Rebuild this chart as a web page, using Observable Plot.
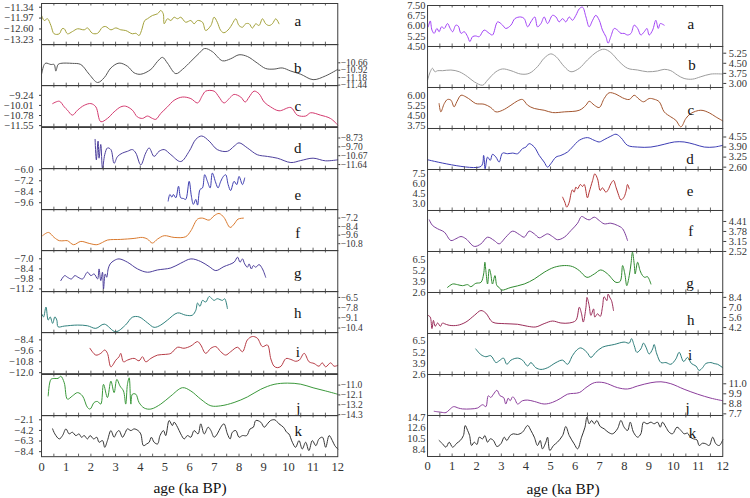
<!DOCTYPE html>
<html><head><meta charset="utf-8">
<script src="https://cdn.jsdelivr.net/npm/d3@7"></script>
<script src="https://cdn.jsdelivr.net/npm/@observablehq/plot@0.6"></script>
<style>
body{margin:0;background:#fff;}
#wrap{position:relative;width:750px;height:498px;background:#fff;font-family:"Liberation Serif","Times New Roman","DejaVu Serif",serif;overflow:hidden;}
.xl{position:absolute;font-size:15.5px;color:#111;transform:translate(-50%,-50%);white-space:nowrap;font-family:"Liberation Serif","Times New Roman","DejaVu Serif",serif;}
svg text{font-family:"Liberation Serif","Times New Roman","DejaVu Serif",serif;}
</style></head><body><div id="wrap"></div>
<script>
// ---------- data: [age (ka BP), value] ----------
const leftA=[[0,-11.82],[0.11,-12.11],[0.24,-12.01],[0.38,-12.40],[0.51,-12.88],[0.72,-12.88],[0.83,-12.59],[0.92,-12.59],[1.05,-12.88],[1.25,-12.75],[1.46,-12.59],[1.73,-12.65],[1.86,-12.54],[2.06,-12.85],[2.27,-12.85],[2.47,-12.50],[2.6,-12.46],[2.81,-12.65],[3.01,-12.54],[3.21,-12.65],[3.41,-12.69],[3.68,-12.88],[3.82,-12.85],[3.95,-12.98],[4.05,-12.69],[4.18,-12.11],[4.29,-12.01],[4.49,-11.82],[4.70,-11.72],[4.83,-11.53],[4.93,-11.72],[4.97,-12.30],[5.10,-12.01],[5.24,-12.11],[5.37,-11.92],[5.51,-12.01],[5.64,-11.92],[5.84,-12.21],[6.05,-12.11],[6.18,-12.30],[6.32,-12.11],[6.52,-12.21],[6.65,-12.69],[6.86,-12.40],[6.99,-11.92],[7.12,-12.21],[7.26,-12.69],[7.39,-12.82],[7.60,-12.59],[7.73,-12.30],[7.87,-12.01],[8.00,-12.40],[8.14,-12.50],[8.27,-12.30],[8.41,-12.30],[8.54,-12.55],[8.68,-12.30],[8.81,-12.40],[8.95,-12.01],[9.08,-12.30],[9.22,-12.40],[9.35,-12.30],[9.49,-12.01],[9.62,-12.30]];
const leftB=[[0,-11.06],[0.11,-10.72],[0.18,-10.67],[0.38,-10.72],[0.51,-10.72],[0.58,-10.95],[0.67,-10.72],[0.78,-10.68],[1.25,-10.68],[1.59,-10.72],[1.93,-11.06],[2.27,-11.35],[2.54,-11.18],[2.81,-10.84],[3.14,-10.67],[3.48,-10.78],[3.75,-11.01],[4.02,-11.06],[4.43,-10.89],[4.70,-10.61],[4.90,-10.47],[5.10,-10.67],[5.44,-11.04],[5.71,-10.89],[6.05,-10.61],[6.38,-10.33],[6.61,-10.16],[6.92,-10.27],[7.33,-10.59],[7.66,-10.52],[8.0,-10.38],[8.34,-10.44],[8.74,-10.67],[9.08,-10.86],[9.42,-10.88],[9.75,-10.84],[10.1,-10.95],[10.5,-11.06],[11.0,-11.25],[11.5,-11.12],[12.0,-10.89]];
const leftC=[[0.45,-9.87],[0.72,-9.69],[0.92,-10.12],[1.05,-10.37],[1.25,-10.75],[1.46,-10.37],[1.73,-10.0],[2.0,-9.87],[2.2,-10.12],[2.4,-11.25],[2.67,-11.0],[2.94,-10.50],[3.21,-10.12],[3.41,-10.07],[3.68,-10.37],[3.88,-10.88],[4.09,-11.0],[4.29,-10.82],[4.49,-11.0],[4.63,-11.07],[4.83,-10.62],[5.10,-10.12],[5.37,-9.62],[5.71,-9.37],[6.05,-9.49],[6.32,-9.82],[6.52,-9.24],[6.65,-8.92],[6.99,-8.92],[7.19,-9.37],[7.39,-9.82],[7.66,-9.37],[7.80,-9.17],[8.07,-9.37],[8.25,-9.75],[8.41,-9.37],[8.61,-8.92],[8.81,-9.12],[9.02,-9.75],[9.28,-10.12],[9.62,-10.42],[10.1,-10.17],[10.36,-10.75],[10.7,-10.82],[10.9,-10.57],[11.3,-10.75],[11.7,-11.0],[12.0,-11.50]];
const leftD=[[2.17,-8.88],[2.22,-11.12],[2.29,-9.07],[2.33,-10.94],[2.40,-9.44],[2.47,-12.06],[2.56,-10.56],[2.67,-9.82],[2.81,-10.0],[2.94,-11.50],[3.08,-10.75],[3.28,-10.38],[3.48,-10.19],[3.68,-10.0],[3.82,-10.38],[4.02,-11.68],[4.22,-10.38],[4.36,-9.82],[4.56,-10.75],[4.76,-10.19],[4.97,-10.0],[5.24,-10.56],[5.64,-11.31],[5.98,-10.19],[6.25,-8.88],[6.49,-8.51],[6.79,-9.07],[7.12,-10.0],[7.53,-10.19],[7.80,-9.63],[8.0,-9.26],[8.34,-9.82],[8.74,-10.56],[9.15,-10.75],[9.55,-10.94],[10.1,-11.42],[10.5,-11.2],[11.0,-10.94],[11.5,-11.23],[12.0,-11.12]];
const leftE=[[5.13,-9.42],[5.20,-8.70],[5.28,-8.99],[5.34,-8.70],[5.44,-9.06],[5.55,-7.80],[5.64,-9.06],[5.75,-9.14],[5.84,-9.24],[5.98,-7.26],[6.07,-8.88],[6.15,-9.78],[6.25,-9.24],[6.32,-9.86],[6.42,-8.16],[6.52,-7.98],[6.61,-6.54],[6.72,-7.26],[6.83,-7.98],[6.92,-6.36],[7.06,-7.44],[7.15,-7.98],[7.26,-7.26],[7.37,-6.72],[7.46,-6.54],[7.56,-7.62],[7.66,-8.27],[7.80,-7.26],[7.91,-7.62],[8.0,-6.72],[8.14,-7.62],[8.23,-6.90]];
const leftF=[[0.04,-9.68],[0.28,-9.22],[0.51,-9.92],[0.72,-10.38],[0.92,-10.38],[1.05,-10.38],[1.30,-10.94],[1.59,-10.48],[1.93,-10.76],[2.24,-10.94],[2.47,-10.62],[2.67,-10.29],[3.21,-10.20],[3.75,-10.06],[4.09,-9.92],[4.29,-10.15],[4.49,-10.71],[4.70,-10.15],[4.97,-9.68],[5.37,-9.92],[5.84,-9.82],[6.05,-8.98],[6.32,-7.35],[6.52,-7.21],[6.79,-7.49],[6.99,-6.88],[7.19,-6.56],[7.39,-7.12],[7.64,-8.52],[7.80,-8.05],[7.96,-7.35],[8.18,-7.21]];
const leftG=[[0.78,-10.04],[0.94,-9.34],[1.05,-9.57],[1.21,-9.81],[1.35,-9.34],[1.48,-9.57],[1.66,-9.81],[1.86,-8.87],[2.0,-9.34],[2.13,-9.11],[2.27,-9.81],[2.33,-8.41],[2.40,-10.04],[2.47,-8.87],[2.51,-11.21],[2.58,-9.11],[2.64,-9.57],[2.70,-8.41],[2.78,-7.71],[2.94,-7.24],[3.14,-7.01],[3.48,-7.47],[3.89,-8.41],[4.29,-8.87],[4.70,-8.55],[5.24,-8.27],[5.64,-7.61],[6.05,-7.01],[6.45,-7.38],[6.79,-8.08],[7.06,-8.64],[7.39,-8.08],[7.80,-7.47],[7.94,-6.77],[8.04,-7.47],[8.14,-7.01],[8.23,-7.71],[8.34,-8.17],[8.41,-7.71],[8.50,-8.41],[8.58,-7.94],[8.68,-8.17],[8.81,-7.80],[8.95,-8.41],[9.08,-9.57]];
const leftH=[[0,-8.55],[0.08,-8.98],[0.18,-7.72],[0.27,-9.39],[0.35,-8.98],[0.45,-9.81],[0.54,-8.98],[0.62,-9.39],[0.67,-10.24],[0.92,-10.15],[1.46,-10.02],[1.86,-10.11],[2.2,-10.44],[2.54,-9.90],[3.0,-10.87],[3.4,-10.02],[3.68,-9.02],[3.95,-8.98],[4.29,-9.73],[4.56,-10.31],[4.83,-10.02],[5.10,-9.39],[5.51,-8.47],[5.84,-8.76],[6.11,-8.76],[6.25,-8.13],[6.32,-7.21],[6.42,-7.63],[6.52,-6.87],[6.65,-7.09],[6.79,-6.37],[6.86,-6.53],[6.99,-6.87],[7.12,-6.66],[7.33,-6.87],[7.42,-6.66],[7.53,-7.92]];
const leftI=[[1.96,-9.32],[2.2,-10.07],[2.4,-9.88],[2.56,-9.51],[2.67,-9.88],[2.81,-11.36],[3.01,-10.62],[3.14,-10.25],[3.21,-9.88],[3.32,-10.81],[3.48,-10.62],[3.75,-10.43],[3.95,-10.70],[4.09,-10.25],[4.22,-10.81],[4.43,-10.43],[4.70,-10.07],[5.03,-9.99],[5.24,-9.88],[5.51,-9.21],[5.77,-9.32],[6.05,-9.07],[6.32,-8.59],[6.45,-8.96],[6.65,-9.88],[6.86,-9.32],[7.06,-9.14],[7.26,-9.70],[7.46,-10.07],[7.66,-9.70],[7.94,-9.21],[8.14,-9.70],[8.34,-8.40],[8.54,-8.03],[8.74,-8.21],[8.95,-9.14],[9.15,-8.96],[9.29,-10.5],[9.42,-11.29],[9.55,-11.45],[9.70,-11.3],[9.9,-10.45],[10.1,-10.55],[10.3,-10.75],[10.45,-10.6],[10.64,-9.88],[10.84,-10.81],[11.04,-10.99],[11.24,-11.29],[11.37,-10.92],[11.51,-11.36],[11.71,-10.92],[11.85,-11.29],[12.0,-11.2]];
const leftJ=[[0.27,-12.21],[0.38,-10.37],[0.51,-10.26],[0.67,-10.26],[0.78,-10.01],[0.92,-10.74],[1.05,-12.57],[1.25,-12.21],[1.46,-11.84],[1.66,-12.21],[1.86,-13.49],[1.97,-13.67],[2.13,-12.94],[2.27,-12.83],[2.40,-13.12],[2.51,-10.92],[2.67,-12.39],[2.81,-10.56],[2.94,-11.84],[3.05,-10.37],[3.18,-11.11],[3.32,-11.66],[3.41,-13.12],[3.48,-10.92],[3.55,-10.19],[3.62,-13.12],[3.68,-12.02],[3.82,-12.02],[3.95,-12.94],[4.16,-13.56],[4.43,-13.67],[4.83,-13.12],[5.24,-12.21],[5.71,-11.29],[6.05,-11.66],[6.45,-12.57],[6.86,-13.31],[7.26,-13.31],[7.80,-12.94],[8.34,-12.32],[8.88,-11.47],[9.42,-10.92],[9.96,-10.78],[10.5,-10.9],[11.0,-11.3],[11.5,-11.65],[12.0,-12.02]];
const leftK=[[0.45,-3.90],[0.54,-4.89],[0.72,-5.88],[0.85,-5.22],[0.99,-3.90],[1.12,-4.89],[1.25,-4.56],[1.39,-5.22],[1.52,-4.89],[1.62,-5.55],[1.73,-5.22],[1.86,-5.88],[1.97,-5.22],[2.11,-5.88],[2.24,-5.55],[2.33,-6.54],[2.47,-6.21],[2.56,-7.54],[2.67,-6.21],[2.81,-4.23],[2.94,-5.55],[3.05,-4.56],[3.14,-4.23],[3.28,-5.55],[3.37,-4.89],[3.48,-3.90],[3.62,-4.23],[3.75,-3.90],[3.91,-4.23],[4.02,-4.89],[4.13,-7.21],[4.26,-6.87],[4.36,-6.54],[4.45,-5.55],[4.56,-6.54],[4.70,-6.87],[4.80,-5.22],[4.94,-4.23],[5.03,-5.22],[5.17,-2.24],[5.30,-3.24],[5.37,-2.57],[5.51,-3.57],[5.64,-4.89],[5.78,-5.88],[5.91,-5.22],[6.05,-5.55],[6.18,-4.23],[6.34,-4.89],[6.45,-2.90],[6.59,-4.89],[6.75,-3.57],[6.86,-4.23],[6.99,-5.55],[7.12,-4.89],[7.26,-3.57],[7.39,-2.90],[7.53,-4.89],[7.64,-5.88],[7.73,-4.56],[7.87,-4.23],[8.0,-5.55],[8.14,-5.22],[8.31,-5.22],[8.45,-3.90],[8.58,-3.57],[8.68,-2.24],[8.88,-2.57],[9.02,-3.57],[9.15,-2.90],[9.28,-2.24],[9.45,-2.11],[9.62,-2.90],[9.80,-3.57],[9.93,-4.56],[10.02,-4.89],[10.16,-6.54],[10.29,-7.54],[10.43,-6.21],[10.56,-7.87],[10.70,-6.54],[10.83,-8.20],[10.97,-6.21],[11.11,-7.21],[11.24,-5.88],[11.38,-5.55],[11.51,-7.54],[11.65,-5.22],[11.78,-6.21],[11.88,-7.21],[12.0,-7.87]];

const rightA=[[0.03,5.94],[0.11,6.37],[0.18,5.70],[0.27,5.46],[0.38,5.82],[0.47,5.58],[0.57,5.94],[0.68,5.82],[0.81,6.18],[0.92,5.82],[1.02,5.58],[1.15,6.06],[1.25,5.99],[1.36,5.46],[1.49,5.58],[1.63,5.22],[1.72,4.86],[1.83,5.22],[1.96,5.27],[2.10,5.22],[2.30,5.70],[2.51,5.46],[2.64,5.34],[2.85,6.30],[3.05,6.06],[3.18,5.82],[3.39,6.06],[3.55,6.54],[3.79,6.66],[3.93,6.54],[4.07,5.94],[4.20,6.30],[4.36,6.66],[4.47,5.94],[4.61,6.18],[4.74,6.66],[4.88,6.18],[5.08,6.78],[5.22,6.66],[5.35,6.30],[5.49,6.54],[5.62,6.30],[5.76,6.66],[5.89,6.42],[6.03,6.78],[6.17,7.26],[6.30,7.38],[6.44,6.66],[6.57,5.94],[6.71,6.42],[6.84,6.78],[6.98,6.42],[7.11,5.70],[7.25,5.22],[7.34,4.74],[7.45,5.22],[7.59,5.82],[7.72,5.70],[7.86,5.46],[7.99,5.46],[8.13,5.34],[8.27,5.46],[8.40,6.06],[8.54,5.82],[8.67,5.34],[8.81,5.58],[8.92,5.82],[9.01,5.34],[9.15,5.70],[9.28,6.42],[9.38,5.82],[9.46,6.18],[9.55,6.13],[9.62,6.06]];
const rightB=[[0,3.25],[0.11,3.87],[0.20,4.13],[0.30,3.87],[0.41,3.95],[0.61,3.95],[0.95,4.0],[1.29,3.87],[1.63,3.50],[1.90,3.12],[2.24,2.87],[2.44,3.25],[2.78,3.87],[3.05,4.08],[3.39,3.95],[3.79,3.70],[4.13,3.75],[4.47,4.25],[4.74,4.88],[5.01,5.20],[5.22,5.0],[5.56,4.25],[5.83,3.87],[6.17,4.13],[6.50,4.75],[6.91,5.38],[7.18,5.55],[7.45,5.30],[7.79,4.63],[8.13,4.13],[8.54,4.0],[8.94,3.87],[9.35,3.93],[9.62,4.05],[9.89,3.95],[10.16,3.62],[10.43,3.37],[10.77,3.32],[11.11,3.50],[11.52,3.70],[12.0,3.70]];
const rightC=[[0.47,5.39],[0.54,4.78],[0.68,5.39],[0.81,5.69],[0.95,5.64],[1.08,5.15],[1.19,5.52],[1.36,6.0],[1.56,5.88],[1.76,5.64],[1.96,5.39],[2.30,5.34],[2.57,5.10],[2.78,4.78],[3.05,4.90],[3.39,5.27],[3.66,5.59],[3.86,5.69],[4.07,5.27],[4.34,5.03],[4.74,4.90],[5.08,4.73],[5.56,4.78],[6.17,4.90],[6.44,5.27],[6.57,5.56],[6.78,5.27],[6.98,5.10],[7.18,5.76],[7.38,6.18],[7.66,6.08],[7.93,5.81],[8.20,5.69],[8.40,6.0],[8.60,5.71],[8.78,5.52],[9.01,5.76],[9.21,5.71],[9.42,5.52],[9.62,4.78],[9.89,4.41],[10.09,4.17],[10.30,3.68],[10.50,4.29],[10.70,4.66],[11.11,4.90],[11.45,4.71],[11.72,4.41],[12.0,4.12]];
const rightD=[[0,3.08],[2.17,2.65],[2.28,3.36],[2.34,2.49],[2.44,3.25],[2.55,3.04],[2.64,3.43],[2.78,3.25],[2.91,2.93],[3.05,3.51],[3.25,3.47],[3.46,3.51],[3.66,3.47],[3.86,3.80],[4.0,3.90],[4.13,4.12],[4.34,3.90],[4.54,3.36],[4.74,2.93],[4.88,2.60],[5.01,2.82],[5.22,3.25],[5.42,3.36],[5.69,3.58],[5.89,3.90],[6.17,4.34],[6.50,4.51],[6.77,4.34],[6.98,4.23],[7.18,4.38],[7.45,4.60],[7.66,4.73],[7.86,4.51],[8.13,4.01],[8.54,3.90],[9.08,3.90],[9.62,4.08],[10.03,4.23],[10.43,4.23],[10.84,4.08],[11.25,3.90],[11.65,3.90],[12.0,4.01]];
const rightE=[[5.49,4.0],[5.58,3.25],[5.66,2.50],[5.76,3.25],[5.83,4.50],[5.89,5.10],[5.96,4.75],[6.03,5.50],[6.10,5.25],[6.21,5.90],[6.30,5.60],[6.37,5.90],[6.50,3.90],[6.57,4.75],[6.71,6.50],[6.80,7.50],[6.91,6.75],[7.02,5.0],[7.11,5.40],[7.25,4.75],[7.34,5.10],[7.45,6.0],[7.56,6.50],[7.66,5.50],[7.75,4.50],[7.86,3.60],[7.97,3.90],[8.06,4.75],[8.13,5.90],[8.20,5.25]];
const rightF=[[0.07,4.51],[0.20,4.16],[0.41,3.95],[0.68,3.74],[0.95,3.21],[1.15,3.32],[1.36,3.46],[1.56,3.32],[1.90,2.84],[2.17,3.0],[2.44,3.42],[2.71,3.21],[2.91,3.0],[3.18,3.42],[3.46,3.80],[3.73,3.59],[3.93,3.42],[4.13,3.80],[4.34,3.63],[4.54,3.38],[4.74,3.53],[4.88,3.63],[5.08,3.46],[5.28,3.26],[5.56,3.42],[5.83,3.84],[6.10,4.30],[6.26,4.72],[6.44,4.58],[6.57,4.51],[6.78,4.68],[6.98,4.47],[7.18,4.26],[7.45,4.30],[7.72,4.16],[7.93,3.95],[8.13,3.21]];
const rightG=[[0.81,3.21],[1.02,3.62],[1.22,3.54],[1.42,3.42],[1.63,3.54],[1.76,3.30],[1.96,3.70],[2.17,3.82],[2.28,4.83],[2.33,6.24],[2.37,5.23],[2.44,3.62],[2.51,5.43],[2.57,4.83],[2.64,3.62],[2.74,4.63],[2.82,3.42],[2.91,3.21],[3.01,2.89],[3.39,3.21],[3.93,3.62],[4.34,4.22],[4.74,5.03],[5.15,5.63],[5.56,5.84],[5.89,5.72],[6.17,5.23],[6.48,4.42],[6.78,4.83],[7.04,5.31],[7.32,4.83],[7.66,3.82],[7.83,3.94],[7.93,5.84],[8.02,4.83],[8.10,3.42],[8.20,4.63],[8.27,6.04],[8.33,7.45],[8.40,6.04],[8.44,4.83],[8.54,6.24],[8.64,5.23],[8.74,4.63],[8.83,4.42],[8.94,4.50],[9.08,3.62]];
const rightH=[[0.03,5.89],[0.11,5.66],[0.18,4.06],[0.24,5.20],[0.31,4.38],[0.41,4.84],[0.52,4.38],[0.61,4.84],[0.68,4.75],[0.88,4.52],[1.22,4.52],[1.56,4.97],[1.90,5.89],[2.17,6.57],[2.37,6.21],[2.64,4.97],[3.12,4.75],[3.66,4.66],[4.07,4.38],[4.40,4.29],[4.74,4.75],[5.08,5.11],[5.42,4.84],[5.76,4.84],[6.03,5.20],[6.17,7.03],[6.26,6.12],[6.33,4.97],[6.44,7.03],[6.48,8.40],[6.57,7.26],[6.64,5.89],[6.75,6.80],[6.80,5.66],[6.91,6.12],[7.02,5.75],[7.11,7.03],[7.18,8.49],[7.29,7.94],[7.34,8.86],[7.42,8.31],[7.48,7.94],[7.56,6.57]];
const rightI=[[1.96,5.58],[2.17,4.91],[2.37,4.67],[2.57,4.79],[2.78,3.99],[2.91,4.19],[3.09,4.51],[3.22,3.79],[3.39,4.27],[3.66,4.51],[3.86,4.27],[4.07,3.59],[4.20,3.99],[4.40,3.39],[4.61,3.19],[4.88,3.39],[5.22,3.99],[5.49,4.27],[5.69,3.79],[5.89,4.79],[6.07,5.46],[6.23,5.70],[6.48,5.18],[6.64,4.59],[6.84,5.18],[7.11,5.78],[7.59,6.10],[7.99,6.38],[8.20,6.26],[8.29,6.78],[8.40,5.98],[8.51,5.18],[8.67,5.58],[8.78,6.26],[8.88,5.78],[9.01,4.99],[9.15,5.58],[9.21,6.10],[9.32,4.99],[9.49,3.99],[9.69,3.99],[9.89,3.79],[10.09,4.39],[10.23,5.18],[10.41,4.11],[10.57,4.59],[10.73,3.87],[10.91,3.59],[11.04,3.07],[11.18,3.39],[11.31,3.87],[11.52,3.99],[11.65,3.87],[11.79,3.79],[12.0,3.39]];
const rightJ=[[0.27,7.98],[0.54,7.88],[0.75,7.84],[0.88,8.13],[1.06,8.49],[1.25,8.34],[1.42,8.24],[1.76,8.24],[2.03,8.34],[2.24,8.70],[2.37,8.49],[2.47,9.68],[2.57,9.50],[2.68,9.86],[2.82,10.29],[2.95,9.68],[3.09,9.50],[3.18,8.78],[3.28,9.42],[3.36,9.14],[3.46,9.57],[3.55,9.32],[3.66,8.78],[3.86,9.14],[4.07,9.21],[4.34,9.06],[4.74,8.78],[5.08,8.96],[5.42,9.42],[5.69,9.86],[6.17,10.04],[6.44,10.58],[6.78,11.12],[7.18,11.12],[7.72,10.58],[8.13,10.43],[8.54,10.76],[9.08,11.12],[9.49,11.22],[9.89,11.01],[10.43,10.40],[10.98,9.86],[11.52,9.42],[12.0,9.14]];
const rightK=[[0.47,10.16],[0.61,9.51],[0.75,8.85],[0.88,9.83],[1.02,8.85],[1.19,9.63],[1.33,10.16],[1.46,11.13],[1.53,13.08],[1.63,12.11],[1.71,11.13],[1.79,9.18],[1.90,9.83],[2.01,9.38],[2.10,10.80],[2.24,10.48],[2.33,11.13],[2.44,9.83],[2.55,10.48],[2.68,10.16],[2.82,8.99],[2.98,9.51],[3.12,10.80],[3.22,10.16],[3.36,11.13],[3.49,11.46],[3.66,11.33],[3.86,11.78],[4.07,13.08],[4.20,12.11],[4.34,10.80],[4.47,9.18],[4.58,10.16],[4.67,8.53],[4.81,9.83],[4.88,10.80],[4.97,8.21],[5.12,9.18],[5.28,9.83],[5.49,11.13],[5.62,12.88],[5.76,11.13],[5.96,9.51],[6.10,8.53],[6.26,10.80],[6.40,12.75],[6.48,14.70],[6.57,13.41],[6.67,14.06],[6.78,13.41],[6.88,14.06],[7.02,12.88],[7.18,12.43],[7.34,11.78],[7.52,11.46],[7.72,12.43],[7.86,14.06],[7.99,12.75],[8.13,12.11],[8.24,13.73],[8.37,11.78],[8.54,10.80],[8.67,11.46],[8.78,13.73],[8.92,13.41],[9.08,13.73],[9.21,13.41],[9.35,13.73],[9.46,12.75],[9.55,13.73],[9.69,12.75],[9.82,11.78],[9.96,11.46],[10.14,12.75],[10.30,12.11],[10.43,11.46],[10.57,11.58],[10.68,10.80],[10.81,10.48],[10.95,10.29],[11.04,9.18],[11.18,9.63],[11.31,9.51],[11.45,9.18],[11.59,10.80],[11.72,9.51],[11.86,9.18],[12.0,10.29]];

// ---------- tick labels ----------
const ageTicks=[0,1,2,3,4,5,6,7,8,9,10,11,12];
const leftTicks={a:[-11.34,-11.97,-12.60,-13.23],b:[-10.66,-10.92,-11.18,-11.44],c:[-9.24,-10.01,-10.78,-11.55],d:[-8.73,-9.70,-10.67,-11.64],e:[-6.0,-7.2,-8.4,-9.6],f:[-7.2,-8.4,-9.6,-10.8],g:[-7.0,-8.4,-9.8,-11.2],h:[-6.5,-7.8,-9.1,-10.4],i:[-8.4,-9.6,-10.8,-12.0],j:[-11.0,-12.1,-13.2,-14.3],k:[-2.1,-4.2,-6.3,-8.4]};
const rightTicks={a:[7.50,6.75,6.00,5.25,4.50],b:[5.25,4.50,3.75,3.00],c:[6.00,5.25,4.50,3.75],d:[4.55,3.90,3.25,2.60],e:[7.5,6.0,4.5,3.0],f:[4.41,3.78,3.15,2.52],g:[6.5,5.2,3.9,2.6],h:[8.4,7.0,5.6,4.2],i:[6.5,5.2,3.9,2.6],j:[11.0,9.9,8.8,7.7],k:[14.7,12.6,10.5,8.4]};
const xTitle="age (ka BP)";

// ---------- panel settings ----------
const leftPanels=[
 {k:"a",data:leftA,dom:[-13.51,-11.125],f:".2f",side:"left",c:"#a3a13a",lab:[10.38,12]},
 {k:"b",data:leftB,dom:[-11.46,-10.02],f:".2f",side:"right",c:"#555555",lab:[10.38,18]},
 {k:"c",data:leftC,dom:[-11.63,-8.49],f:".2f",side:"left",c:"#d33a6e",lab:[10.38,15]},
 {k:"d",data:leftD,dom:[-12.09,-7.58],f:".2f",side:"right",c:"#4c3f9c",lab:[10.38,15]},
 {k:"e",data:leftE,dom:[-10.36,-5.86],f:".1f",side:"left",c:"#3d3db0",lab:[10.38,21]},
 {k:"f",data:leftF,dom:[-11.78,-6.0],f:".1f",side:"right",c:"#d9792e",lab:[10.38,18]},
 {k:"g",data:leftG,dom:[-11.58,-5.84],f:".1f",side:"left",c:"#4b3d9a",lab:[10.38,17]},
 {k:"h",data:leftH,dom:[-10.99,-5.74],f:".1f",side:"right",c:"#2f817c",lab:[10.38,16]},
 {k:"i",data:leftI,dom:[-12.11,-7.59],f:".1f",side:"left",c:"#b63a44",lab:[10.38,14]},
 {k:"j",data:leftJ,dom:[-14.41,-9.82],f:".1f",side:"right",c:"#3a983a",lab:[10.4,28]},
 {k:"k",data:leftK,dom:[-9.39,-1.25],f:".1f",side:"left",c:"#333333",lab:[10.4,10]}
];
const rightPanels=[
 {k:"a",data:rightA,dom:[4.5,7.5],f:".2f",side:"left",c:"#a243f5",lab:[10.7,13]},
 {k:"b",data:rightB,dom:[2.70,5.75],f:".2f",side:"right",c:"#9c9c9c",lab:[10.75,13]},
 {k:"c",data:rightC,dom:[3.56,6.57],f:".2f",side:"left",c:"#a3552f",lab:[10.7,17]},
 {k:"d",data:rightD,dom:[2.45,5.10],f:".2f",side:"right",c:"#3b3bb3",lab:[10.67,25]},
 {k:"e",data:rightE,dom:[2.0,8.15],f:".1f",side:"left",c:"#b23434",lab:[10.67,16]},
 {k:"f",data:rightF,dom:[2.52,5.10],f:".2f",side:"right",c:"#7c3f9c",lab:[10.7,15]},
 {k:"g",data:rightG,dom:[2.6,7.53],f:".1f",side:"left",c:"#2f8a2f",lab:[10.67,26]},
 {k:"h",data:rightH,dom:[3.38,9.08],f:".1f",side:"right",c:"#9a2c58",lab:[10.7,22]},
 {k:"i",data:rightI,dom:[2.6,7.38],f:".1f",side:"left",c:"#2c7b78",lab:[10.67,16]},
 {k:"j",data:rightJ,dom:[7.52,12.02],f:".1f",side:"right",c:"#8b3d9b",lab:[10.57,28]},
 {k:"k",data:rightK,dom:[7.04,15.03],f:".1f",side:"left",c:"#333333",lab:[10.77,12]}
];

const columns=[
 {panels:leftPanels,ticks:leftTicks,x0:40.7,w:296.3,top:3,h:453/11,ml:44,mr:48,lpad:6,ltick:2,lsize:10.5,rsize:9.5,rtick:2,rpad:1,titleX:190,titleY:488},
 {panels:rightPanels,ticks:rightTicks,x0:426.7,w:295.3,top:5,h:41,ml:50,mr:30,lpad:2,ltick:0,lsize:10.5,rsize:10.5,rtick:3,rpad:3,titleX:563,titleY:489}
];

const wrap=document.getElementById("wrap");
const halfTicks=d3.range(0.5,12,0.5);
const frameColor="#3c3c3c";
const serif="'Liberation Serif','Times New Roman','DejaVu Serif',serif";

columns.forEach(col=>{
  const n=col.panels.length;
  col.panels.forEach((p,i)=>{
    const H=col.h;
    const bottom=i===n-1;
    const mb=bottom?30:0;
    const isLeft=p.side==="left";
    const marks=[
      Plot.line(p.data,{x:d=>d[0],y:d=>d[1],stroke:p.c,strokeWidth:1,curve:"catmull-rom"}),
      Plot.tickX(halfTicks,{x:d=>d,insetTop:H-2.5,stroke:frameColor,strokeWidth:0.8}),
      Plot.tickX(halfTicks,{x:d=>d,insetBottom:H-2.5,stroke:frameColor,strokeWidth:0.8}),
      Plot.frame({stroke:frameColor,strokeWidth:1}),
      Plot.axisY(col.ticks[p.k],{anchor:p.side,tickSize:isLeft?col.ltick:col.rtick,tickPadding:isLeft?col.lpad:col.rpad,
        tickFormat:d3.format(p.f),fontSize:isLeft?col.lsize:col.rsize,fill:"#333",stroke:frameColor}),
      Plot.text([p.k],{x:p.lab[0],text:d=>d,frameAnchor:"top",dy:p.lab[1],fontSize:15,fill:"#111"})
    ];
    if(bottom){
      marks.push(Plot.axisX(ageTicks,{anchor:"bottom",tickSize:0,tickPadding:5,fontSize:12.5,fill:"#333",tickFormat:d=>String(d)}));
    }
    const svg=Plot.plot({
      width:col.ml+col.w+col.mr,
      height:H+mb,
      marginLeft:col.ml,marginRight:col.mr,marginTop:0,marginBottom:mb,
      style:{background:"transparent",overflow:"visible",fontFamily:serif},
      x:{domain:[0,12],axis:null},
      y:{domain:p.dom,axis:null},
      marks
    });
    svg.style.position="absolute";
    svg.style.left=(col.x0-col.ml)+"px";
    svg.style.top=(col.top+i*H)+"px";
    wrap.appendChild(svg);
  });
  const t=document.createElement("div");
  t.className="xl";
  t.textContent=xTitle;
  t.style.left=col.titleX+"px";
  t.style.top=col.titleY+"px";
  wrap.appendChild(t);
});
</script>
</body></html>
